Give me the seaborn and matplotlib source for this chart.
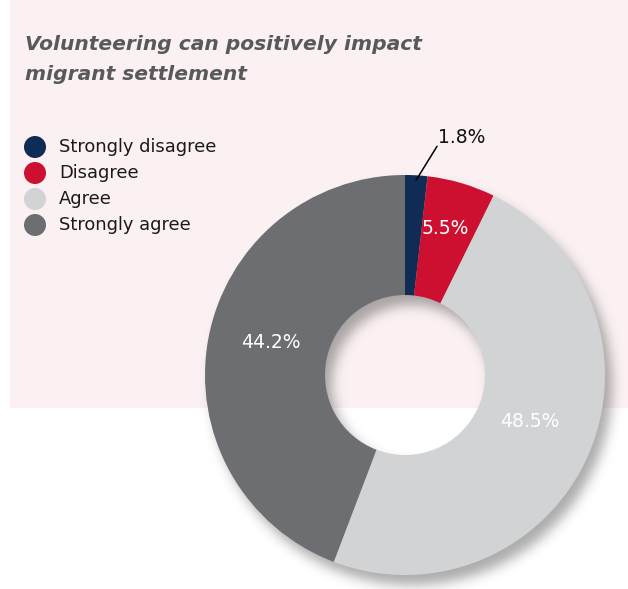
import numpy as np
import matplotlib
matplotlib.use("Agg")
import matplotlib.pyplot as plt
from matplotlib.patches import Rectangle
import seaborn as sns

# Survey responses
categories = ["Strongly disagree", "Disagree", "Agree", "Strongly agree"]
shares = [1.8, 5.5, 48.5, 44.2]
colors = ["#0E2C54", "#CE1030", "#D1D3D5", "#6D6E72"]
title_lines = ["Volunteering can positively impact", "migrant settlement"]

sns.set_theme(style="white")
plt.rcParams["font.family"] = ["DejaVu Sans"]

W, H = 628, 589
fig = plt.figure(figsize=(W / 100, H / 100), dpi=100)
fig.patch.set_facecolor("white")
ax = fig.add_axes([0, 0, 1, 1])

# Tinted panel behind the title, legend and top half of the donut
ax.add_patch(Rectangle((10, H - 408), W - 10, 408, facecolor="#FBF1F2",
                       edgecolor="none", zorder=0))

# Donut geometry (pixel units, y measured upward)
cx, cy, R, r_in = 405, H - 375, 200, 80

# Soft drop shadow under the ring
def gaussian_blur(a, s):
    k = np.arange(-3 * s, 3 * s + 1)
    g = np.exp(-k ** 2 / (2.0 * s * s))
    g /= g.sum()
    a = np.apply_along_axis(lambda v: np.convolve(v, g, mode="same"), 0, a)
    a = np.apply_along_axis(lambda v: np.convolve(v, g, mode="same"), 1, a)
    return a

rows, cols = np.mgrid[0:H, 0:W] + 0.5
sx, sy = 405 + 7, 375 + 10
d = np.hypot(cols - sx, rows - sy)
ring = ((d <= R) & (d >= r_in)).astype(float)
soft = gaussian_blur(ring, 6)
shadow = np.zeros((H, W, 4))
shadow[..., :3] = 0.22
shadow[..., 3] = soft * 0.42
ax.imshow(shadow, extent=(0, W, 0, H), origin="upper", zorder=1,
          interpolation="bilinear")

wedges, _ = ax.pie(shares, colors=colors, startangle=90, counterclock=False,
                   radius=R, center=(cx, cy), frame=True,
                   wedgeprops=dict(width=R - r_in, edgecolor="none",
                                   linewidth=0, zorder=2))
for w in wedges:
    w.set_zorder(2)

# Value labels
label_radius = [None, 0.72, 0.68, 0.68]
for w, v, lr in zip(wedges, shares, label_radius):
    mid = np.deg2rad((w.theta1 + w.theta2) / 2)
    txt = f"{v:.1f}%"
    if lr is None:
        x0 = cx + 0.975 * R * np.cos(mid)
        y0 = cy + 0.975 * R * np.sin(mid)
        x1, y1 = x0 + 21, y0 + 34
        ax.plot([x0, x1], [y0, y1], color="black", lw=1.1, zorder=3)
        ax.text(x1 + 1, y1 + 9, txt, ha="left", va="center",
                fontsize=13.5, color="#111111", zorder=3)
    else:
        ax.text(cx + lr * R * np.cos(mid), cy + lr * R * np.sin(mid) + 8, txt,
                ha="center", va="center", fontsize=13.5, color="white",
                zorder=3)

# Title
for i, line in enumerate(title_lines):
    ax.text(25, H - 50 - 30 * i, line, ha="left", va="baseline",
            fontsize=14.6, fontweight="bold", fontstyle="italic",
            color="#58595B", zorder=3)

# Legend
for i, (cat, col) in enumerate(zip(categories, colors)):
    y = H - 147 - 26 * i
    ax.scatter([35], [y], s=22 ** 2 * 0.52, color=col, edgecolor="none",
               zorder=3)
    ax.text(59, y, cat, ha="left", va="center", fontsize=12.9,
            color="#1A1A1A", zorder=3)

ax.set_xlim(0, W)
ax.set_ylim(0, H)
ax.set_aspect("auto")
ax.axis("off")

fig.savefig("out.png", dpi=100, facecolor="white")
